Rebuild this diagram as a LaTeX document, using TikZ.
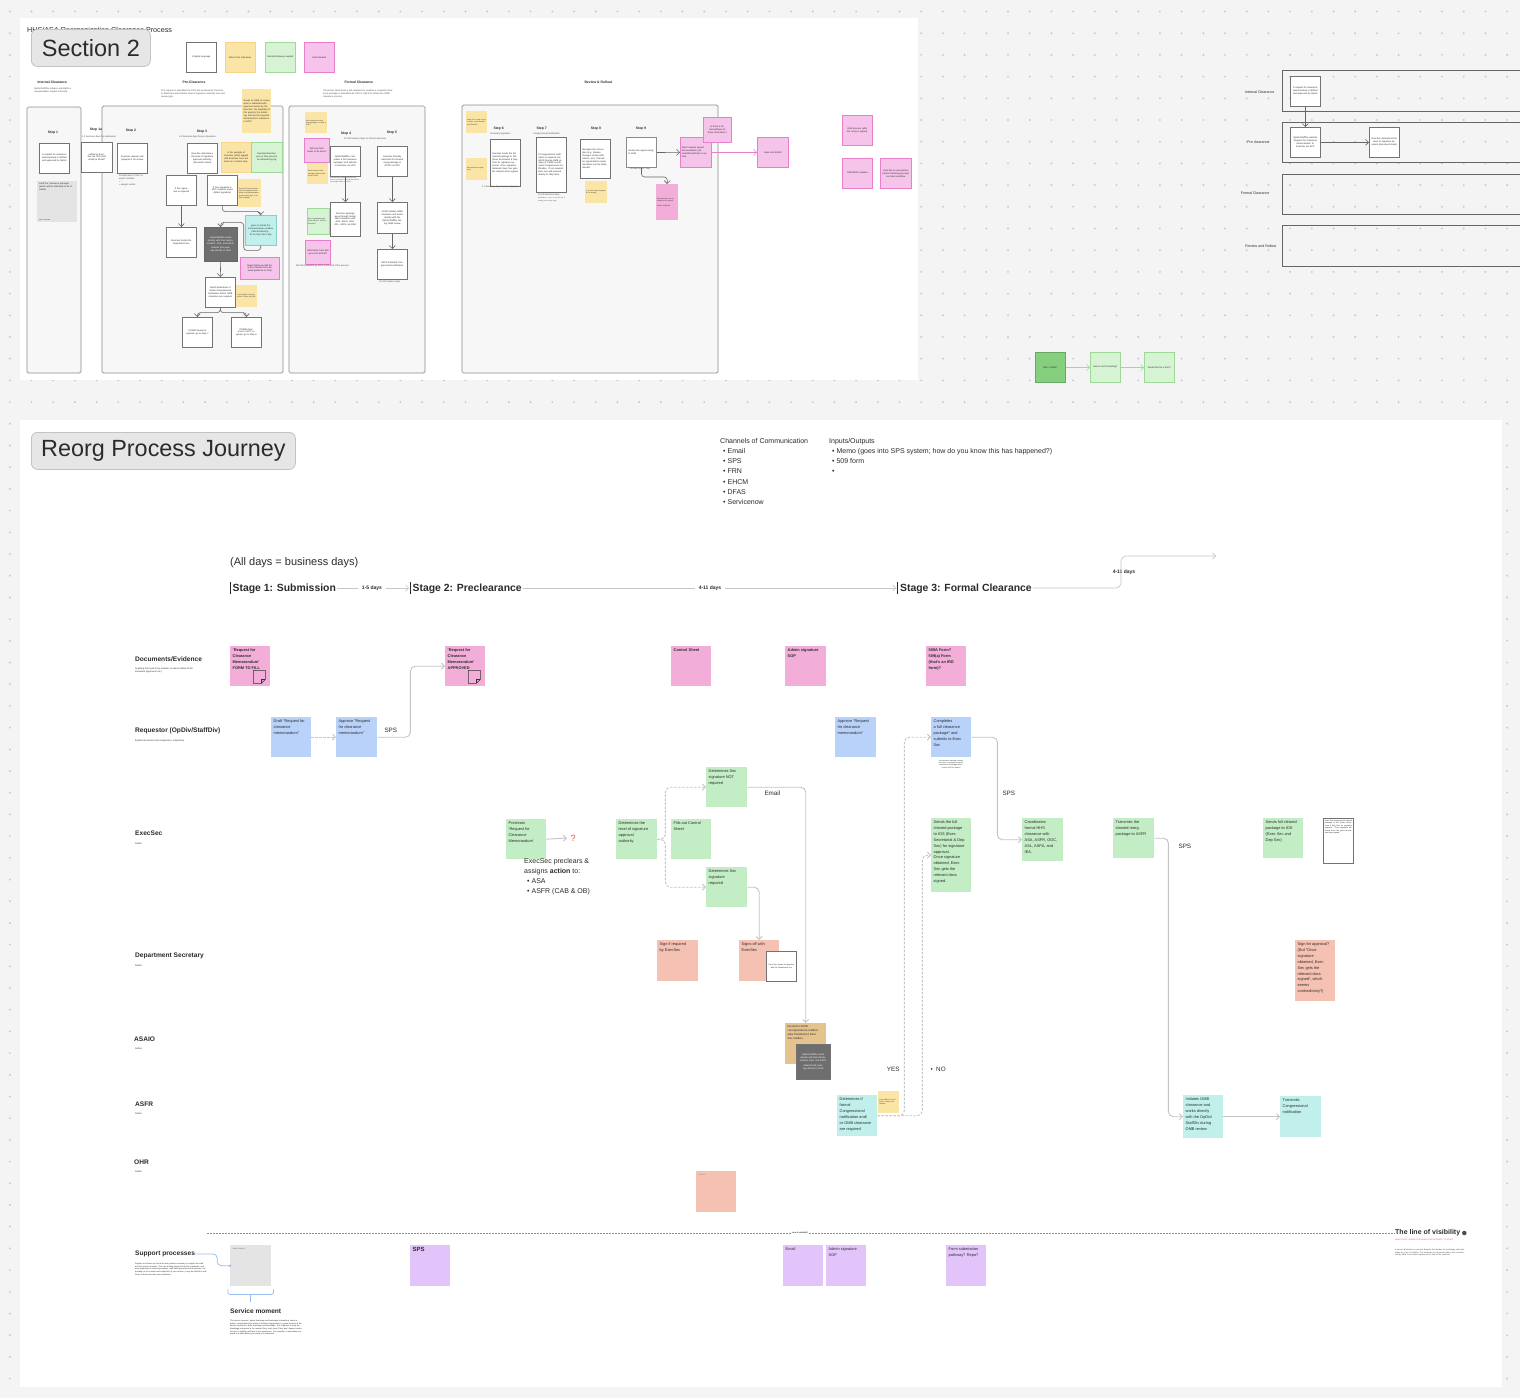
\documentclass[tikz,border=0pt]{standalone}
\usepackage{fontspec}
\setmainfont{Liberation Sans}
\usetikzlibrary{positioning,calc,arrows.meta}

\definecolor{bgGray}{HTML}{F4F4F4}
\definecolor{dotGray}{HTML}{C9C9C9}
\definecolor{inkGray}{HTML}{2B2B2B}
\definecolor{linkGray}{HTML}{C4C4C4}
\definecolor{lblFill}{HTML}{E6E6E6}
\definecolor{lblLine}{HTML}{C3C3C3}
\definecolor{notePink}{HTML}{F2AED9}
\definecolor{noteBlue}{HTML}{B9D2FA}
\definecolor{noteGreen}{HTML}{C3EDC5}
\definecolor{noteSalmon}{HTML}{F5C1B3}
\definecolor{noteCyan}{HTML}{C1F0EC}
\definecolor{notePurple}{HTML}{E3C4FA}
\definecolor{noteTan}{HTML}{E4C38F}
\definecolor{noteYellow}{HTML}{FBE5A6}
\definecolor{noteGrey}{HTML}{E4E4E4}
\definecolor{noteDark}{HTML}{6E6E6E}
\definecolor{pinkLine}{HTML}{E77FCB}
\definecolor{pinkFill}{HTML}{F6C4EA}
\definecolor{greenLine}{HTML}{9ED99A}
\definecolor{greenFill}{HTML}{D6F3D3}
\definecolor{greenDark}{HTML}{85CF7F}
\definecolor{laneFill}{HTML}{F7F7F7}
\definecolor{qRed}{HTML}{E8553A}
\definecolor{supBlue}{HTML}{9DBBF5}

\newcommand{\noteFont}{\fontsize{3.9}{5.9}\selectfont}
\newcommand{\tinyFont}{\fontsize{2.3}{2.9}\selectfont}
\newcommand{\headFont}{\fontsize{3.4}{4}\selectfont\bfseries}
\newcommand{\laneFont}{\fontsize{6.6}{8}\selectfont\bfseries}
\newcommand{\stageFont}{\fontsize{10.4}{12}\selectfont\bfseries}
\newcommand{\listFont}{\fontsize{7}{10.2}\selectfont}
\newcommand{\ntx}[3]{\parbox[t][#2pt][t]{#1pt}{\raggedright #3}}

\begin{document}
\begin{tikzpicture}[x=1pt, y=-1pt,
    every node/.style={text=inkGray},
    stick/.style={anchor=north west, inner sep=2.5pt, align=left, font=\noteFont},
    wbox/.style={anchor=north west, draw=black!55, fill=white, line width=0.6pt,
        minimum width=30pt, minimum height=30pt, text width=26pt, inner sep=1.5pt,
        align=center, font=\tinyFont},
    tsq/.style={anchor=north west, inner sep=1pt, font=\tinyFont, align=center},
    lanebox/.style={draw=black!45, fill=laneFill, line width=0.7pt, rounded corners=1.5pt},
    mlink/.style={draw=black!60, line width=0.6pt, rounded corners=3pt, ->},
    link/.style={draw=linkGray, line width=0.9pt, rounded corners=5pt},
    dlink/.style={link, dash pattern=on 2.5pt off 1.5pt},
    tline/.style={draw=black!22, line width=0.7pt, rounded corners=5pt},
    lane/.style={anchor=west, inner sep=0pt, font=\laneFont},
    lanesub/.style={anchor=north west, inner sep=0pt, align=left, font=\tinyFont},
    tinytxt/.style={anchor=north west, inner sep=0pt, align=left, font=\tinyFont, text=black!70},
    steplbl/.style={font=\headFont},
    >={Straight Barb[length=3pt, width=6pt]}
]
\useasboundingbox (0,0) rectangle (1520,1398);
\clip (0,0) rectangle (1520,1398);

% Board background and panels
\fill[bgGray] (0,0) rectangle (1520,1398);
\foreach \i in {0,...,69}
  \foreach \j in {0,...,64}
    \fill[dotGray] (9.8+21.7*\i, 11.5+21.7*\j) circle (1.05);
\fill[white] (20,18) rectangle (918,380);
\fill[white] (20,420) rectangle (1502,1387);

% ---------------- Section 2 ----------------
\node[anchor=west, inner sep=0pt, font=\fontsize{7.2}{8}\selectfont] (boardTitle) at (27,31) {HHS/ASA Reorganization Clearance Process};
\node[anchor=north west, draw=lblLine, fill=lblFill, line width=0.8pt, rounded corners=6pt,
      minimum width=119pt, minimum height=37pt, font=\fontsize{23.5}{26}\selectfont] (secLbl) at (31,29) {Section 2};

% Legend
\node[tsq, draw=black!55, fill=white, minimum width=30pt, minimum height=30pt, text width=27pt, line width=0.6pt] (lgOrig) at (186,42) {Original language};
\node[tsq, draw=noteYellow!80!orange, fill=noteYellow, minimum width=30pt, minimum height=30pt, text width=27pt] (lgMinor) at (225,42) {Minor from interviews};
\node[tsq, draw=greenLine, fill=greenFill, minimum width=30pt, minimum height=30pt, text width=27pt] (lgFollow) at (265,42) {Internal follow-up needed};
\node[tsq, draw=pinkLine, fill=pinkFill, minimum width=30pt, minimum height=30pt, text width=27pt, line width=0.7pt] (lgOhr) at (304,42) {OHR element};

% Phase headers
\node[anchor=west, font=\headFont] (hdInt) at (34,82) {Internal Clearance};
\node[tinytxt, text width=40pt] (dsInt) at (34,88) {OpDiv/StaffDiv initiates and drafts a reorganization request internally.};
\node[anchor=west, font=\headFont] (hdPre) at (179,82) {Pre-Clearance};
\node[tinytxt, text width=64pt] (dsPre) at (161,90) {The request is submitted via SPS and reviewed by ExecSec to determine and indicate level of signature authority and next review type.};
\node[anchor=west, font=\headFont] (hdFor) at (341,82) {Formal Clearance};
\node[tinytxt, text width=70pt] (dsFor) at (323,90) {If ExecSec determines a full clearance is needed, a complete clearance package is submitted via SPS to ASFR to initiate the OMB clearance process.};
\node[anchor=west, font=\headFont] (hdRev) at (581,82) {Review \& Rollout};

% Phase containers
\draw[lanebox] (27,107) rectangle (81,373);
\draw[lanebox] (102,106) rectangle (283,373);
\draw[lanebox] (289,106) rectangle (425,373);
\draw[lanebox] (462,105) rectangle (718,373);

% Internal clearance
\node[steplbl] (stp1) at (53,133) {Step 1};
\node[wbox] (a1) at (39,143) {A request for clearance memorandum is drafted and approved by OpDiv};
\node[tsq, fill=noteGrey, minimum width=40pt, minimum height=41pt, text width=36pt, align=left, anchor=north west] (a1g) at (37,181) {\parbox[t][37pt][t]{36pt}{Draft the `clearance package' (which will be attached) to be included\vfill{\fontsize{1.6}{2}\selectfont Add a footnote}}};

% Pre-clearance
\node[steplbl] (stp1a) at (96,130) {Step 1a};
\node[tinytxt] (stp1aSub) at (82,136) {1-3 business days for submission};
\node[wbox, minimum width=31pt] (s1a) at (81,142) {submit to ExecSec via SPS (and email) or Email?};
\node[steplbl] (stp2) at (131,131) {Step 2};
\node[wbox] (s2) at (117,143) {ExecSec reviews and prepares it for review};
\node[tinytxt, text width=26pt] (s2Sub) at (119,175) {Preclearance of the 'request' includes:\\ \textbullet\ ...\\ \textbullet\ assigns action};
\node[steplbl] (stp3) at (202,132) {Step 3};
\node[tinytxt] (stp3Sub) at (179,136) {2-3 business days for pre-clearance};
\node[wbox] (s3) at (187,143) {ExecSec determines the level of signature approval authority (document sheet)};
\node[tsq, fill=noteYellow, draw=noteYellow!85!orange, minimum width=30pt, minimum height=30pt, text width=27pt] (s3y) at (221,142) {Is the example of ExecSec (ASA) tagged with ExecSec ones are done as a routine step.};
\node[tsq, fill=greenFill, draw=greenLine, minimum width=31pt, minimum height=30pt, text width=27pt] (s3g) at (251,142) {ExecSec/ExecSec use on their process for determining sig};
\node[tsq, fill=noteYellow, minimum width=29pt, minimum height=44pt, text width=26pt, align=left] (ytall) at (242,89) {Needs an SME to review what is submitted with approved memo by the ExecSec; the template (if this goes) is the Admin sig; and are the required documents for clearance a SOP?};
\node[wbox] (b1) at (166,175) {If Sec signature is required};
\node[wbox] (b2) at (207,175) {If Sec signature is NOT required (need Admin signature)};
\node[tsq, fill=noteYellow, minimum width=23pt, minimum height=28pt, text width=21pt, font=\fontsize{1.7}{2.2}\selectfont, align=left] (y2) at (238,179) {Does the ExecSec determine the approval level? What is the determination for the Admin sig? Is an SOP needed?};
\node[tsq, fill=noteCyan, draw=noteCyan!70!teal, minimum width=31pt, minimum height=30pt, text width=27pt] (cy) at (245,215) {goes to submit the correspondence mailbox (aka Restitution) - for an Dep Sec's day};
\node[tsq, fill=noteDark, draw=black!60, minimum width=33pt, minimum height=34pt, text width=30pt, text=white] (dk) at (204,227) {OpDiv/StaffDiv works directly with their Administrators, ASA, and ASFR.\\[1pt] Submits 509 package directly to OHR};
\node[tsq, fill=pinkFill, draw=pinkLine, minimum width=39pt, minimum height=22pt, text width=35pt, line width=0.7pt] (pk) at (240,257) {Needs follow-up with ExecSec (Needs more detailed guidance on this)};
\node[wbox] (b3) at (166,227) {ExecSec Sends the Department Sec};
\node[wbox] (b4) at (205,277) {ASHD determines if formal Congressional notification and/or OMB clearance are required};
\node[tsq, fill=noteYellow, minimum width=21pt, minimum height=22pt, text width=19pt, font=\fontsize{1.7}{2.2}\selectfont, align=left] (y3) at (236,285) {Is this ASHD or the ExecSec? Check the SOP.};
\node[wbox] (b5) at (182,317) {If OMB clearance required, go to Step 7};
\node[wbox] (b6) at (231,317) {If OMB clearance is NOT required, go to Step 6};

\draw[mlink] (b1.south) -- (b3.north);
\draw[mlink] (b2.south) -- ++(0,6) -| (cy.north);
\draw[mlink] (cy.south) -- ++(0,5) -| ++(-17,-28) -| (dk.north);
\draw[mlink] (dk.south) -- (b4.north);
\draw[mlink] (b4.south) -- ++(0,5) -| (b5.north);
\draw[mlink] (b4.south) -- ++(0,5) -| (b6.north);

% Formal clearance
\node[tsq, fill=noteYellow, minimum width=22pt, minimum height=21pt, text width=20pt, font=\fontsize{1.7}{2.2}\selectfont, align=left] (fy1) at (305,112) {Who creates the clearance package? Is there a SOP?};
\node[tsq, fill=pinkFill, draw=pinkLine, minimum width=25pt, minimum height=24pt, text width=22pt, line width=0.7pt] (fp1) at (304,138) {SOS (a) form needs to be done?};
\node[tsq, fill=noteYellow, minimum width=21pt, minimum height=21pt, text width=19pt, font=\fontsize{1.7}{2.2}\selectfont, align=left] (fy2) at (307,163) {Each element of the package needs review by the OpDiv.};
\node[steplbl] (stp4) at (346,134) {Step 4};
\node[tinytxt] (stp4Sub) at (344,138) {10-20 business days for formal clearance};
\node[wbox] (f4) at (330,146) {OpDiv/StaffDiv completes a full clearance package* and submits to ExecSec via SPS};
\node[tinytxt, text width=30pt, font=\fontsize{1.6}{2}\selectfont] (f4Sub) at (330,177) {*full clearance package includes the memo, org charts, functional statements and budget tables (see SOP)};
\node[wbox, minimum height=34pt] (f4b) at (330,202) {ExecSec package goes through formal HHS clearance with ASA, ASFR, OGC, ASL, ASPA, and IEA};
\node[tsq, fill=greenFill, draw=greenLine, minimum width=22pt, minimum height=26pt, text width=20pt, font=\fontsize{1.7}{2.2}\selectfont, align=left] (fg) at (307,208) {Who coordinates each of the offices? ASFR or ExecSec?};
\node[tsq, fill=pinkFill, draw=pinkLine, minimum width=25pt, minimum height=24pt, text width=22pt, line width=0.7pt] (fp2) at (305,240) {Information from 509 goes into EHCM?};
\node[tinytxt] (fp2Sub) at (296,265) {EHCM is updated by OHR at the end of the process};
\node[steplbl] (stp5) at (392,133) {Step 5};
\node[wbox] (f5) at (377,146) {ExecSec formally transmits the cleared reorg package to ASFR via SPS};
\node[wbox, minimum height=31pt] (f5b) at (377,202) {ASFR initiates OMB clearance and works directly with the OpDiv/StaffDiv during OMB review};
\node[wbox] (f5c) at (377,249) {ASFR transmits Congressional notification};
\node[tinytxt] (f5cSub) at (379,281) {10-20 business days};

\draw[mlink] (f4.south) -- (f4b.north);
\draw[mlink] (f5.south) -- (f5b.north);
\draw[mlink] (f5b.south) -- (f5c.north);

% Review and rollout
\node[tsq, fill=noteYellow, minimum width=21pt, minimum height=22pt, text width=19pt, font=\fontsize{1.7}{2.2}\selectfont, align=left] (ry1) at (466,111) {Steps 6 to 9 may not be in order; to be checked with ExecSec.};
\node[tsq, fill=noteYellow, minimum width=21pt, minimum height=22pt, text width=19pt, font=\fontsize{1.7}{2.2}\selectfont, align=left] (ry2) at (466,158) {Who tracks the signature?};
\node[steplbl, anchor=west] (stp6) at (490,129) {Step 6};
\node[tinytxt] (stp6Sub) at (490,133) {Secretary Signature};
\node[wbox, minimum height=47pt, align=left] (r6) at (490,139) {ExecSec sends the full cleared package to IOS (Exec Secretariat \& Dep Sec) for signature approval. Once signature obtained, Exec Sec gets the relevant docs signed.};
\node[tinytxt] (r6Sub) at (482,186) {1-3 business days for Sec Signature};
\node[steplbl, anchor=west] (stp7) at (533,129) {Step 7};
\node[tinytxt] (stp7Sub) at (533,133) {Congressional Notification};
\node[wbox, minimum height=55pt, align=left] (r7) at (536,137) {If Congressional notification is required, the ASFR (during OMB review) or ASHD coordinates Congressional notification. If not required, Exec Sec will proceed directly to Step Nine.};
\node[tinytxt, text width=30pt] (r7Sub) at (538,194) {10-20 business days\\{\fontsize{1.6}{2}\selectfont Notification is sent to the Hill and a waiting period may apply}};
\node[steplbl] (stp8) at (596,129) {Step 8};
\node[wbox, minimum height=39pt, align=left] (r8) at (580,139) {Manages the roll-out plan (e.g. phases, changes, email notifications, etc.) that will be signed before implementation can be implemented};
\node[tsq, fill=noteYellow, minimum width=22pt, minimum height=22pt, text width=20pt, font=\fontsize{1.7}{2.2}\selectfont, align=left] (ry3) at (585,181) {Is a roll-out plan required for all reorgs?};
\node[steplbl] (stp9) at (641,129) {Step 9};
\node[wbox, draw=black!45, line width=1pt, align=left] (r9) at (626,137) {Routes the signed reorg to OHR};
\node[tinytxt] (r9Sub) at (630,168) {Process ends / Day};
\node[tsq, fill=pinkFill, draw=pinkLine, minimum width=31pt, minimum height=30pt, text width=28pt, line width=0.7pt, align=left] (rp1) at (680,137) {OHR receives signed documentation (via email/SharePoint) to upload};
\node[tsq, fill=pinkFill, draw=pinkLine, minimum width=28pt, minimum height=25pt, text width=25pt, line width=0.7pt] (rp2) at (703,117) {Is there a formal pathway for these documents?};
\node[tsq, fill=pinkFill, draw=pinkLine, minimum width=31pt, minimum height=30pt, text width=28pt, line width=0.7pt] (rp3) at (757,137) {Goes into EHCM};
\node[tsq, fill=notePink, minimum width=22pt, minimum height=36pt, text width=20pt, font=\fontsize{1.7}{2.2}\selectfont, align=left] (rpt) at (656,184) {Relevant docs are uploaded to the system\\[3pt] Action confirmed};

\draw[mlink] (r9.east) -- (rp1.west);
\draw[mlink, draw=pinkLine] (rp1.east) -- (rp3.west);
\draw[mlink] (r9.south) -- ++(0,9) -| (rpt.north);

\node[tsq, fill=pinkFill, draw=pinkLine, minimum width=30pt, minimum height=30pt, text width=27pt, line width=0.7pt] (op1) at (842,115) {OHR process (after the reorg is signed)};
\node[tsq, fill=pinkFill, draw=pinkLine, minimum width=30pt, minimum height=30pt, text width=27pt, line width=0.7pt] (op2) at (842,158) {OHR/DFAS updates};
\node[tsq, fill=pinkFill, draw=pinkLine, minimum width=31pt, minimum height=30pt, text width=28pt, line width=0.7pt] (op3) at (880,158) {Send file to new position (and/or following process) via ticket workflow};

% Right-hand lanes
\draw[draw=black!60, line width=0.8pt] (1545,70) -- (1282,70) -- (1282,111) -- (1545,111);
\draw[draw=black!60, line width=0.8pt] (1545,122) -- (1282,122) -- (1282,162) -- (1545,162);
\draw[draw=black!60, line width=0.8pt] (1545,174) -- (1282,174) -- (1282,214) -- (1545,214);
\draw[draw=black!60, line width=0.8pt] (1545,225) -- (1282,225) -- (1282,266) -- (1545,266);
\node[anchor=east, font=\fontsize{3.6}{4}\selectfont] (rlInt) at (1278,92) {Internal Clearance};
\node[anchor=east, font=\fontsize{3.6}{4}\selectfont] (rlPre) at (1273,142) {Pre clearance};
\node[anchor=east, font=\fontsize{3.6}{4}\selectfont] (rlFor) at (1273,193) {Formal Clearance};
\node[anchor=east, font=\fontsize{3.6}{4}\selectfont] (rlRev) at (1280,246) {Review and Rollout};
\node[wbox] (rb1) at (1290,76) {A request for clearance memorandum is drafted and approved by OpDiv};
\node[wbox] (rb2) at (1290,127) {OpDiv/StaffDiv submits 'Request for Clearance Memorandum' to ExecSec via SPS};
\node[wbox] (rb3) at (1369,127) {ExecSec determines the level of signature approval (document sheet)};
\draw[mlink] (rb1.south) -- (rb2.north);
\draw[mlink] (rb2.east) -- (rb3.west);

% Green idea chain
\node[tsq, fill=greenDark, draw=greenDark!80!black, minimum width=30pt, minimum height=30pt, text width=27pt, line width=0.7pt] (gb1) at (1035,352) {Who is SME?};
\node[tsq, fill=greenFill, draw=greenLine, minimum width=30pt, minimum height=30pt, text width=27pt, line width=0.7pt] (gb2) at (1090,352) {How to do the briefing?};
\node[tsq, fill=greenFill, draw=greenLine, minimum width=30pt, minimum height=30pt, text width=27pt, line width=0.7pt] (gb3) at (1144,352) {Would this be a form?};
\draw[mlink, draw=greenLine] (gb1.east) -- (gb2.west);
\draw[mlink, draw=greenLine] (gb2.east) -- (gb3.west);

% ---------------- Reorg Process Journey ----------------
\node[anchor=north west, draw=lblLine, fill=lblFill, line width=0.8pt, rounded corners=6pt,
      minimum width=264pt, minimum height=37pt, font=\fontsize{23.4}{26}\selectfont] (jrnLbl) at (31,432) {Reorg Process Journey};

\node[anchor=north west, align=left, font=\listFont, inner sep=0pt] (chanNote) at (720,438)
  {Channels of Communication\\\hspace*{3pt}\textbullet\ Email\\\hspace*{3pt}\textbullet\ SPS\\\hspace*{3pt}\textbullet\ FRN\\\hspace*{3pt}\textbullet\ EHCM\\\hspace*{3pt}\textbullet\ DFAS\\\hspace*{3pt}\textbullet\ Servicenow};
\node[anchor=north west, align=left, font=\listFont, inner sep=0pt] (ioNote) at (829,438)
  {Inputs/Outputs\\\hspace*{3pt}\textbullet\ Memo (goes into SPS system; how do you know this has happened?)\\\hspace*{3pt}\textbullet\ 509 form\\\hspace*{3pt}\textbullet};

% Stage timeline
\node[anchor=west, font=\fontsize{11}{13}\selectfont, inner sep=0pt] (allDays) at (230,563) {(All days = business days)};
\node[anchor=west, font=\stageFont, inner sep=1pt] (stA) at (229,588) {\vrule width 0.7pt height 9.5pt depth 3pt\,Stage 1: Submission};
\node[font=\fontsize{5}{6}\selectfont\bfseries] (dA) at (372,588) {1-5 days};
\node[anchor=west, font=\stageFont, inner sep=1pt] (stB) at (409,588) {\vrule width 0.7pt height 9.5pt depth 3pt\,Stage 2: Preclearance};
\node[font=\fontsize{5}{6}\selectfont\bfseries] (dB) at (710,588) {4-11 days};
\node[anchor=west, font=\stageFont, inner sep=1pt] (stC) at (896,588) {\vrule width 1.2pt height 9.5pt depth 3pt\,Stage 3: Formal Clearance};
\node[font=\fontsize{5}{6}\selectfont\bfseries] (dC) at (1124,572) {4-11 days};
\coordinate (tlBend) at (1121,588);
\coordinate (endC) at (1216,556);
\draw[tline] (stA.east) -- (dA.west);
\draw[tline, ->] (dA.east) -- (stB.west);
\draw[tline] (stB.east) -- (dB.west);
\draw[tline, ->] (dB.east) -- (stC.west);
\draw[tline, ->] (stC.east) -- (tlBend) |- (endC);

% Lane labels
\node[lane] (lnDocs) at (135,659) {Documents/Evidence};
\node[lanesub] (lnDocsSub) at (135,668) {Anything that need to be created, as well as status of the\\document (approved, etc.)};
\node[lane] (lnReq) at (135,731) {Requestor (OpDiv/StaffDiv)};
\node[lanesub] (lnReqSub) at (135,740) {Explain the actions here (Inspection, Inspection)};
\node[lane] (lnEs) at (135,833) {ExecSec};
\node[lanesub] (lnEsSub) at (135,843) {Define};
\node[lane] (lnDs) at (135,956) {Department Secretary};
\node[lanesub] (lnDsSub) at (135,965) {Define};
\node[lane] (lnAsa) at (134,1039) {ASAIO};
\node[lanesub] (lnAsaSub) at (135,1048) {Define};
\node[lane] (lnAsfr) at (135,1104) {ASFR};
\node[lanesub] (lnAsfrSub) at (135,1113) {Define};
\node[lane] (lnOhr) at (134,1162) {OHR};
\node[lanesub] (lnOhrSub) at (135,1171) {Define};

% Documents / evidence
\node[stick, fill=notePink, font=\noteFont\bfseries] (docForm) at (230,646) {\ntx{35}{35}{'Request for\\Clearance\\Memorandum'\\FORM TO FILL}};
\node[stick, fill=notePink, font=\noteFont\bfseries] (docAppr) at (445,646) {\ntx{35}{35}{'Request for\\Clearance\\Memorandum'\\APPROVED}};
\node[stick, fill=notePink, font=\noteFont\bfseries] (docCtrl) at (671,646) {\ntx{35}{35}{Control Sheet}};
\node[stick, fill=notePink, font=\noteFont\bfseries] (docAdmin) at (785,646) {\ntx{36}{35}{Admin signature\\SOP}};
\node[stick, fill=notePink, font=\noteFont\bfseries] (doc509) at (926,646) {\ntx{35}{35}{509A Form?\\509(a) Form\\(that's an IRG\\form)?}};
\foreach \d in {docForm, docAppr}{
  \draw[black!80, line width=0.6pt, fill=notePink]
    ($(\d.south east)+(-17,-16)$) -- ++(12,0) -- ++(0,9) -- ++(-4,4) -- ++(-8,0) -- cycle;
  \draw[black!80, line width=0.6pt] ($(\d.south east)+(-9,-3)$) -- ++(0,-4) -- ++(4,0);
}

% Requestor
\node[stick, fill=noteBlue] (reqDraft) at (271,717) {\ntx{35}{35}{Draft "Request for\\clearance\\memorandum"}};
\node[stick, fill=noteBlue] (reqAppr) at (336,717) {\ntx{36}{35}{Approve "Request\\for clearance\\memorandum"}};
\node[stick, fill=noteBlue] (reqAppr2) at (835,717) {\ntx{36}{35}{Approve "Request\\for clearance\\memorandum"}};
\node[stick, fill=noteBlue] (reqComplete) at (931,717) {\ntx{35}{35}{Completes\\a full clearance\\package* and\\submits to Exec\\Sec}};
\node[anchor=north, align=center, font=\fontsize{1.7}{2.2}\selectfont, inner sep=0pt] (reqFoot) at (951,760) {*full clearance package includes\\the memo, org charts, functional\\statements, and budget tables\\(see the SOP for details)};
\node[anchor=west, font=\fontsize{6.3}{7}\selectfont] (spsA) at (381,730) {SPS};

% ExecSec
\node[stick, fill=noteGreen] (esPre) at (506,819) {\ntx{35}{35}{Preclears\\'Request for\\Clearance\\Memorandum'}};
\node[font=\fontsize{9}{10}\selectfont, text=qRed] (qMark) at (573,838) {?};
\node[anchor=north west, align=left, font=\listFont, inner sep=0pt] (esAssign) at (524,858)
  {ExecSec preclears \&\\assigns \textbf{action} to:\\\hspace*{3pt}\textbullet\ ASA\\\hspace*{3pt}\textbullet\ ASFR (CAB \& OB)};
\node[stick, fill=noteGreen] (esLevel) at (616,819) {\ntx{36}{35}{Determines the\\level of signature\\approval\\authority}};
\node[stick, fill=noteGreen] (esFill) at (671,819) {\ntx{35}{35}{Fills out Control\\Sheet}};
\node[stick, fill=noteGreen] (esNot) at (706,767) {\ntx{36}{35}{Determines Sec\\signature NOT\\required}};
\node[stick, fill=noteGreen] (esReq) at (706,867) {\ntx{36}{35}{Determines Sec\\signature\\required}};
\node[anchor=west, font=\fontsize{6.3}{7}\selectfont] (emailA) at (761,793) {Email};

\node[stick, fill=noteGreen] (esSends) at (931,818) {\ntx{35}{69}{Sends the full\\cleared package\\to IOS (Exec\\Secretariat \& Dep\\Sec) for signature\\approval.\\Once signature\\obtained, Exec\\Sec gets the\\relevant docs\\signed.}};
\node[stick, fill=noteGreen] (esCoord) at (1022,818) {\ntx{36}{38}{Coordinates\\formal HHS\\clearance with\\ASA, ASFR, OGC,\\ASL, ASPA, and\\IEA.}};
\node[stick, fill=noteGreen] (esTrans) at (1113,818) {\ntx{36}{35}{Transmits the\\cleared reorg\\package to ASFR}};
\node[stick, fill=noteGreen] (esIOS) at (1263,818) {\ntx{35}{35}{Sends full cleared\\package to IOS\\(Exec Sec and\\Dep Sec)}};
\node[anchor=north west, draw=black!55, fill=white, line width=0.8pt, inner sep=1.5pt, font=\fontsize{1.9}{2.5}\selectfont, align=left] (esNote) at (1323,818) {\parbox[t][42pt][t]{27pt}{Exec Sec sends the full cleared package to IOS (Exec Secretariat \& Dep Sec) for signature approval. Once signature obtained, Exec Sec gets the relevant docs signed.}};
\node[anchor=west, font=\fontsize{6.3}{7}\selectfont] (spsB) at (999,793) {SPS};
\node[anchor=west, font=\fontsize{6.3}{7}\selectfont] (spsC) at (1175,846) {SPS};

% Department Secretary
\node[stick, fill=noteSalmon] (dsSign) at (657,940) {\ntx{36}{36}{Sign if required\\by ExecSec}};
\node[stick, fill=noteSalmon] (dsOff) at (739,940) {\ntx{35}{36}{Signs off with\\ExecSec}};
\node[anchor=north west, draw=black!55, fill=white, line width=0.8pt, minimum width=30pt, minimum height=30pt, text width=26pt, inner sep=1.5pt, align=center, font=\fontsize{1.9}{2.5}\selectfont] (dsNote) at (766,951) {Exec Sec shares the decision with the Department Sec};
\node[stick, fill=noteSalmon] (dsApp) at (1295,940) {\ntx{35}{56}{Sign for approval?\\(But "Once\\signature\\obtained, Exec\\Sec gets the\\relevant docs\\signed", which\\seems\\contradictory?)}};

% ASAIO
\node[stick, fill=noteTan, font=\fontsize{2.8}{3.9}\selectfont] (aiRoute) at (785,1023) {\ntx{36}{36}{Routed to ASHD\\correspondence mailbox\\(aka `Restitution') Exec\\Sec mailbox}};
\node[anchor=north west, fill=noteDark, draw=black!55, line width=0.5pt, minimum width=34pt, minimum height=35pt, text width=31pt, inner sep=1pt, align=center, text=white, font=\fontsize{2.3}{3.1}\selectfont] (aiWork) at (796,1044) {OpDiv/StaffDiv works directly with their Administrators, ASA, and ASFR.\\[2pt] Submits 509 package directly to OHR};

% ASFR
\node[stick, fill=noteCyan] (afDet) at (837,1095) {\ntx{35}{36}{Determines if\\formal\\Congressional\\notification and/\\or OMB clearance\\are required}};
\node[anchor=north west, fill=noteYellow, minimum width=21pt, minimum height=22pt, text width=19pt, inner sep=1pt, align=left, font=\fontsize{1.6}{2.1}\selectfont] (afYel) at (878,1091) {Is this ASHD or the ExecSec? Needs to be checked.};
\node[stick, fill=noteCyan] (afOMB) at (1183,1095) {\ntx{35}{38}{Initiates OMB\\clearance and\\works directly\\with the OpDiv/\\StaffDiv during\\OMB review}};
\node[stick, fill=noteCyan] (afCong) at (1280,1096) {\ntx{36}{36}{Transmits\\Congressional\\notification}};
\node[anchor=east, font=\fontsize{6.3}{7}\selectfont] (yesLbl) at (903,1069) {YES};
\node[anchor=west, font=\fontsize{6.3}{7}\selectfont] (noLbl) at (927,1069) {\textbullet\ \ NO};

% OHR
\node[stick, fill=noteSalmon, font=\fontsize{2}{3}\selectfont, text=black!45] (ohrNote) at (696,1171) {\ntx{35}{36}{Add text}};

% Connectors
\draw[dlink, ->] (reqDraft.east) -- (reqAppr.west);
\draw[link, ->] (reqAppr.east) -- ++(33,0) |- (docAppr.west);
\draw[link, ->] (esPre.east) -- (qMark.west);
\draw[dlink, ->] (esLevel.east) -- ++(8,0) |- (esNot.west);
\draw[dlink, ->] (esLevel.east) -- ++(8,0) |- (esReq.west);
\draw[link, ->] (esNot.east) -| (aiRoute.north);
\draw[link, ->] (esReq.east) -| (dsOff.north);
\draw[link, ->] (reqComplete.east) -- ++(26,0) |- (esCoord.west);
\draw[link, ->] (esTrans.east) -- ++(14,0) |- (afOMB.west);
\draw[link, ->] (afOMB.east) -- (afCong.west);
\draw[dlink, ->] (afDet.east) -- ++(27,0) |- (reqComplete.west);
\draw[dlink, ->] (afDet.east) -- ++(45,0) |- (esSends.west);

% Line of visibility
\coordinate (lovStart) at (207,1233);
\node[fill=white, inner sep=1pt, font=\fontsize{2}{3}\selectfont\bfseries] (lovMid) at (800,1233) {Line of visibility?};
\node[anchor=west, inner sep=0pt, font=\fontsize{7}{8}\selectfont\bfseries] (lovTitle) at (1395,1233) {The line of visibility};
\node[circle, fill=black!70, minimum size=4.5pt, inner sep=0pt, right=1.5pt of lovTitle] (lovEye) {};
\draw[black!45, line width=0.6pt, dash pattern=on 2pt off 1pt] (lovStart) -- (lovMid.west);
\draw[black!45, line width=0.6pt, dash pattern=on 2pt off 1pt] (lovMid.east) -- (lovTitle.west);
\node[tinytxt, text=qRed, font=\fontsize{2}{2.6}\selectfont] (lovRed) at (1395,1239) {READ FIRST \textbullet\ ERASE THIS WHEN YOU'RE READY TO START};
\node[tinytxt, text width=70pt, font=\fontsize{2}{2.6}\selectfont] (lovText) at (1395,1249) {A service blueprint is a process diagram that divides the frontstage and backstage by a line of visibility. The elements you document above are customer-facing, while those below happen out of view of the customer.};

% Support processes
\node[lane] (lnSup) at (135,1254) {Support processes};
\node[lanesub, text width=72pt, font=\fontsize{2}{2.6}\selectfont] (lnSupTxt) at (135,1263) {Support processes are the tools and systems necessary to support the staff and the service moment. This can include physical tools like notebooks, software applications, internal processes, staff training and technical systems. Depending on the context and complexity of your service, it may be helpful to split some of these into their own swimlanes.};
\node[stick, fill=noteGrey, font=\fontsize{2}{3}\selectfont, text=black!55] (spNote) at (230,1245) {\ntx{36}{36}{Add a support}};
\draw[supBlue, line width=0.8pt, rounded corners=4pt] (lnSup.east) -- ++(22,0) |- (spNote.west);
\fill[supBlue] (spNote.west) circle (1.3);
\draw[supBlue, line width=0.8pt, rounded corners=2pt] ($(spNote.south west)+(-2,3)$) |- ($(spNote.south east)+(2,8)$) -- ++(0,-5);
\draw[supBlue, line width=0.8pt] ($(spNote.south)+(0,8)$) -- ++(0,8);
\node[lane] (svcMom) at (230,1311) {Service moment};
\node[lanesub, text width=72pt, font=\fontsize{2}{2.6}\selectfont] (svcTxt) at (230,1320) {The service moment, where frontstage and backstage interactions come together, encapsulates the whole of activities happening in a given moment in the service experience, both frontstage and backstage. It is important to map the backstage processes in the moment they start, even if they don't happen above the line of visibility until later in the experience. For example, a reservation prepared at a table before you arrive at a restaurant.};
\node[stick, fill=notePurple, font=\fontsize{6}{7}\selectfont\bfseries] (spSPS) at (410,1245) {\ntx{35}{36}{SPS}};
\node[stick, fill=notePurple] (spEmail) at (783,1245) {\ntx{35}{36}{Email}};
\node[stick, fill=notePurple] (spAdmin) at (826,1245) {\ntx{35}{36}{Admin signature\\SOP}};
\node[stick, fill=notePurple] (spForm) at (946,1245) {\ntx{35}{36}{Form submission\\pathway? Repo?}};
\end{tikzpicture}
\end{document}
